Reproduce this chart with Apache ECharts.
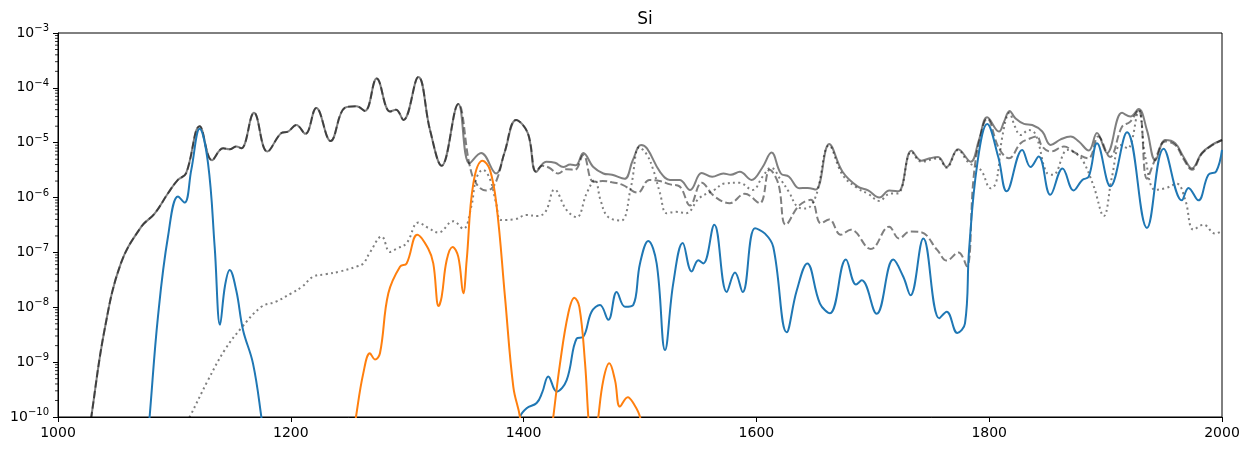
<!DOCTYPE html>
<html>
<head>
<meta charset="utf-8">
<script src="https://cdn.jsdelivr.net/npm/echarts@6/dist/echarts.min.js"></script>
<style>
  html, body { margin: 0; padding: 0; background: #fff; }
  #chart { width: 1249px; height: 451px; }
</style>
</head>
<body>
<div id="chart"></div>
<script>
// x ticks and y decades
const xTicks = [1000, 1200, 1400, 1600, 1800, 2000];
const yDecades = [-10, -9, -8, -7, -6, -5, -4, -3];

// solid and dashed lines share this part
const commonHead = [
  [1022, 1e-11], [1028.6, 1.0e-10], [1040, 3.9e-9], [1054, 6.3e-8], [1071.6, 2.95e-7],
  [1083, 5.1e-7], [1094.5, 1.2e-6], [1103, 2.1e-6], [1110, 2.75e-6], [1121.7, 2.0e-5],
  [1132.3, 4.8e-6], [1141.8, 7.9e-6], [1147.5, 7.6e-6], [1153.2, 8.5e-6], [1157.5, 7.9e-6],
  [1168.4, 3.5e-5], [1179.8, 6.9e-6], [1191.9, 1.5e-5], [1197.6, 1.6e-5], [1204.8, 2.1e-5],
  [1212.5, 1.45e-5], [1221.9, 4.3e-5], [1234.2, 1.07e-5], [1246.3, 4.3e-5], [1256.5, 4.6e-5],
  [1263.7, 3.8e-5], [1273.8, 1.48e-4], [1285.2, 3.7e-5], [1290.4, 4.0e-5], [1296.7, 2.6e-5],
  [1309.6, 1.58e-4], [1319.6, 1.7e-5], [1329.6, 3.8e-6], [1343.9, 5.1e-5]
];

const solidTail = [
  [1353.5, 4.2e-6], [1363.5, 6.5e-6], [1376.4, 2.75e-6], [1383.5, 6.5e-6], [1393.6, 2.6e-5],
  [1403.6, 1.5e-5], [1410.8, 2.95e-6], [1419.4, 4.5e-6], [1427, 4.3e-6], [1434.1, 3.6e-6],
  [1440, 4.0e-6], [1445, 3.9e-6], [1451.3, 6.5e-6], [1459.9, 3.6e-6], [1468.5, 2.75e-6],
  [1476, 2.6e-6], [1486.7, 2.2e-6], [1493.8, 4.8e-6], [1500.9, 9.1e-6], [1506, 7.9e-6],
  [1517.2, 2.95e-6], [1525.8, 2.1e-6], [1534, 2.1e-6], [1543, 1.38e-6], [1553, 2.8e-6],
  [1562, 2.4e-6], [1571.6, 2.75e-6], [1578, 2.6e-6], [1585.8, 2.95e-6], [1595.8, 2.1e-6],
  [1605, 3.5e-6], [1613, 6.6e-6], [1621, 2.75e-6], [1628, 2.4e-6], [1636.8, 1.48e-6],
  [1644, 1.5e-6], [1651, 1.4e-6], [1662.5, 9.5e-6], [1674, 2.95e-6], [1686.8, 1.6e-6],
  [1696, 1.35e-6], [1705.6, 1.0e-6], [1714.2, 1.35e-6], [1722, 1.3e-6], [1733.2, 7.1e-6],
  [1741.8, 4.7e-6], [1749, 5.2e-6], [1756.1, 5.5e-6], [1763.3, 3.6e-6], [1773.3, 7.6e-6],
  [1784.1, 4.5e-6], [1791.2, 1.12e-5], [1798.3, 2.9e-5], [1808.4, 1.6e-5], [1812.7, 2.4e-5],
  [1817.5, 3.8e-5], [1822.7, 2.75e-5], [1829.9, 2.2e-5], [1837, 2.1e-5], [1845.6, 1.6e-5],
  [1852.8, 9.1e-6], [1861.4, 1.15e-5], [1870, 1.3e-5], [1877, 1.05e-5], [1885.5, 7.2e-6],
  [1892.6, 1.5e-5], [1901.2, 6.5e-6], [1914.1, 3.5e-5], [1921.3, 3.0e-5], [1928.4, 4.1e-5],
  [1935.5, 1.7e-5], [1942.7, 4.8e-6], [1951.3, 1.12e-5], [1959.8, 9.8e-6], [1967, 5.5e-6],
  [1974.1, 3.4e-6], [1982.7, 6.5e-6], [1991.3, 9.1e-6], [2000, 1.12e-5]
];

const dashedTail = [
  [1353.5, 4.0e-6], [1359.3, 1.8e-6], [1367.9, 1.35e-6], [1373, 1.5e-6], [1377.9, 2.4e-6],
  [1383.5, 6.5e-6], [1393.6, 2.6e-5], [1403.6, 1.5e-5], [1410.8, 2.95e-6], [1416, 3.8e-6],
  [1422, 3.5e-6], [1429.8, 2.75e-6], [1437, 3.3e-6], [1444, 3.2e-6], [1451.3, 6.0e-6],
  [1459.9, 1.95e-6], [1468, 2.0e-6], [1476, 1.9e-6], [1485, 1.7e-6], [1498, 1.23e-6],
  [1508, 2.1e-6], [1517, 2.0e-6], [1526, 1.74e-6], [1534, 1.6e-6], [1543, 7.2e-7],
  [1553, 1.86e-6], [1564, 1.05e-6], [1577, 7.9e-7], [1590, 1.17e-6], [1602.8, 7.9e-7],
  [1611.4, 3.2e-6], [1618.8, 1.8e-6], [1625.3, 3.2e-7], [1636.8, 7.2e-7], [1646.8, 9.1e-7],
  [1655.4, 3.4e-7], [1662.5, 4.0e-7], [1672.5, 2.1e-7], [1681.1, 2.6e-7], [1698.3, 1.15e-7],
  [1714, 2.95e-7], [1722.6, 1.8e-7], [1732, 2.4e-7], [1741.2, 2.35e-7], [1755.5, 1.1e-7],
  [1763.5, 7.1e-8], [1773.5, 1.0e-7], [1780.7, 5.6e-8], [1786.4, 2.1e-6], [1791.2, 1.0e-5],
  [1798.3, 2.75e-5], [1808.4, 7.9e-6], [1817, 5.2e-6], [1827, 9.8e-6], [1834, 1.17e-5],
  [1840.8, 1.3e-5], [1845.6, 8.5e-6], [1852.8, 6.9e-6], [1864.2, 8.5e-6], [1874.2, 6.5e-6],
  [1885.2, 5.2e-6], [1893.7, 1.3e-5], [1903.8, 5.5e-6], [1914.1, 1.95e-5], [1921, 2.4e-5],
  [1928.4, 4.0e-5], [1935.5, 2.2e-6], [1942.7, 5.0e-6], [1951.3, 1.05e-5], [1959.8, 9.1e-6],
  [1967, 5.0e-6], [1974.1, 3.2e-6], [1982.7, 6.3e-6], [1991.3, 8.9e-6], [2000, 1.12e-5]
];

const dottedLine = [
  [1100, 3e-11], [1113.1, 1.0e-10], [1128.9, 4.7e-10], [1143.2, 1.66e-9], [1157.5, 4.2e-9],
  [1174.7, 1.02e-8], [1187, 1.26e-8], [1200.4, 1.8e-8], [1210, 2.4e-8], [1219.1, 3.6e-8],
  [1230, 4.0e-8], [1242.3, 4.5e-8], [1256.3, 5.5e-8], [1262.3, 6.3e-8], [1268, 1.0e-7],
  [1278.1, 1.95e-7], [1285.2, 1.02e-7], [1291, 1.17e-7], [1299.5, 1.48e-7], [1309.6, 3.5e-7],
  [1318, 2.8e-7], [1326.7, 2.3e-7], [1339.6, 3.7e-7], [1348.2, 2.7e-7], [1355, 6.8e-7],
  [1359.3, 2.2e-6], [1365, 3.2e-6], [1371, 2.2e-6], [1376.4, 7.9e-7], [1380.7, 3.9e-7],
  [1392, 4.0e-7], [1402.6, 4.8e-7], [1412, 4.6e-7], [1419, 5.6e-7], [1426.6, 1.4e-6],
  [1437, 5.9e-7], [1445.6, 4.4e-7], [1454.2, 1.2e-6], [1461.3, 2.1e-6], [1466, 9.1e-7],
  [1472.3, 4.5e-7], [1483.7, 3.8e-7], [1492.3, 1.6e-6], [1499.4, 8.3e-6], [1506, 6.0e-6],
  [1511.4, 3.2e-6], [1517.2, 1.2e-6], [1522.9, 5.2e-7], [1531, 5.5e-7], [1539.5, 5.2e-7],
  [1551, 9.8e-7], [1563.8, 1.38e-6], [1572.4, 1.8e-6], [1585.3, 1.86e-6], [1596.7, 1.38e-6],
  [1605.3, 2.4e-6], [1612.5, 3.5e-6], [1621, 2.1e-6], [1628, 1.26e-6], [1635.4, 6.8e-7],
  [1642.5, 6.3e-7], [1651, 1.05e-6], [1662.5, 8.9e-6], [1674, 2.6e-6], [1686.8, 1.48e-6],
  [1696, 1.17e-6], [1705.6, 8.7e-7], [1714.2, 1.17e-6], [1722, 1.2e-6], [1733.2, 6.8e-6],
  [1741.8, 4.5e-6], [1756, 5.2e-6], [1763.3, 3.5e-6], [1773.3, 7.4e-6], [1782, 4.4e-6],
  [1792.7, 3.2e-6], [1801.3, 1.48e-6], [1806, 1.9e-6], [1811.3, 1.3e-5], [1817.5, 3.5e-5],
  [1822, 2.0e-5], [1827, 1.38e-5], [1834.1, 1.7e-5], [1840, 1.4e-5], [1849.9, 2.75e-6],
  [1855, 2.6e-6], [1867.3, 7.4e-6], [1875, 6.3e-6], [1881, 4.5e-6], [1889.8, 1.6e-6],
  [1898.4, 4.6e-7], [1905.5, 2.4e-6], [1912.7, 9.1e-6], [1919, 7.9e-6], [1928.4, 3.8e-5],
  [1934.1, 5.5e-6], [1942.7, 1.38e-6], [1952, 1.5e-6], [1961.2, 1.78e-6], [1968.4, 9.1e-7],
  [1975.5, 2.6e-7], [1984.1, 3.2e-7], [1994.1, 2.2e-7], [2000, 2.5e-7]
];

const blueLine = [
  [1075, 1.2e-11], [1078.7, 1.0e-10], [1085.9, 6.8e-9], [1094.5, 1.95e-7], [1103.1, 1.05e-6],
  [1108.8, 8.1e-7], [1114.5, 3.2e-6], [1121.7, 1.8e-5], [1128.9, 4.2e-6], [1134.6, 1.26e-7],
  [1139.2, 4.8e-9], [1143.5, 2.5e-8], [1147.5, 4.8e-8], [1153.2, 2.0e-8], [1158.9, 3.9e-9],
  [1167.5, 9.5e-10], [1174.7, 1.0e-10], [1178, 2.5e-11], [1300, 1e-12], [1393, 2.5e-11],
  [1396.9, 1.0e-10], [1402.6, 1.45e-10], [1411.2, 1.8e-10], [1416, 2.8e-10], [1421.2, 5.5e-10],
  [1428.4, 2.9e-10], [1437, 4.7e-10], [1445.6, 2.7e-9], [1451.3, 2.9e-9], [1458.4, 8.3e-9],
  [1465.6, 1.1e-8], [1472.8, 5.9e-9], [1480, 1.9e-8], [1487.1, 1.02e-8], [1494.2, 1.1e-8],
  [1500, 6.3e-8], [1507.1, 1.62e-7], [1514.3, 6.3e-8], [1521.5, 1.66e-9], [1528.6, 2.75e-8],
  [1536.7, 1.48e-7], [1544.4, 4.5e-8], [1550.1, 7.2e-8], [1554.4, 6.3e-8], [1563.8, 3.2e-7],
  [1574.5, 1.9e-8], [1581.6, 4.3e-8], [1588.2, 1.9e-8], [1598.8, 2.75e-7], [1607.4, 2.2e-7],
  [1614.5, 1.26e-7], [1626, 3.5e-9], [1634.6, 2.0e-8], [1643.7, 6.3e-8], [1654.6, 1.17e-8],
  [1663.2, 7.8e-9], [1676.9, 7.4e-8], [1685.6, 2.6e-8], [1690.5, 3.1e-8], [1703.3, 7.6e-9],
  [1717.6, 7.4e-8], [1726.2, 3.6e-8], [1732.4, 1.66e-8], [1743.4, 1.8e-7], [1757.1, 6.3e-9],
  [1763.5, 8.3e-9], [1772.6, 3.4e-9], [1779.2, 5.1e-9], [1782.7, 1.1e-7], [1789.8, 4.2e-6],
  [1798.3, 2.2e-5], [1807.8, 5.5e-6], [1815, 1.3e-6], [1828.4, 7.4e-6], [1835.5, 3.6e-6],
  [1842.5, 5.6e-6], [1852.5, 1.12e-6], [1863, 3.4e-6], [1872.5, 1.35e-6], [1880, 2.1e-6],
  [1885.5, 2.4e-6], [1892.6, 9.8e-6], [1904.1, 1.6e-6], [1918.4, 1.55e-5], [1935.5, 2.8e-7],
  [1949.8, 7.8e-6], [1965.5, 8.9e-7], [1971.2, 1.5e-6], [1979.7, 8.9e-7], [1988.3, 2.6e-6],
  [1995, 3.0e-6], [2000, 7.4e-6]
];

const orangeLine = [
  [1252, 2.5e-11], [1256, 1.0e-10], [1262.3, 6.3e-10], [1268, 1.45e-9], [1272.3, 1.12e-9],
  [1276.6, 1.45e-9], [1283.8, 1.8e-8], [1293.8, 5.5e-8], [1299.5, 6.3e-8], [1308.7, 2.1e-7],
  [1318.1, 1.17e-7], [1322.4, 6.3e-8], [1327, 1.05e-8], [1329.6, 1.55e-8], [1333.9, 7.2e-8],
  [1339, 1.26e-7], [1343.9, 8.3e-8], [1348.2, 1.8e-8], [1351.1, 7.2e-8], [1356.8, 1.8e-6],
  [1364.8, 4.7e-6], [1371.1, 3.2e-6], [1376.9, 6.8e-7], [1384, 1.55e-8], [1391.2, 3.5e-10],
  [1396.9, 1.0e-10], [1400, 2.5e-11], [1411, 1e-12], [1422, 2.5e-11], [1425.5, 1.0e-10],
  [1431.3, 9.5e-10], [1438.4, 7.8e-9], [1443.6, 1.5e-8], [1447.9, 1.02e-8], [1452.8, 9.5e-10],
  [1455.6, 1.0e-10], [1458, 2.5e-11], [1461, 2.5e-11], [1464.2, 1.0e-10], [1468.5, 4.7e-10],
  [1473.6, 9.5e-10], [1478.5, 4.7e-10], [1482.8, 1.55e-10], [1489.5, 2.3e-10], [1494.2, 1.8e-10],
  [1500, 1.0e-10], [1503, 3e-11]
];

const FONT = "DejaVu Sans";
const chart = echarts.init(document.getElementById("chart"), null, { renderer: "canvas" });

// minor ticks of the log axis at 2..9 times each decade
const minorTicks = [];
yDecades.slice(0, -1).forEach(function (d) {
  for (let k = 2; k <= 9; k++) minorTicks.push([1000, k * Math.pow(10, d)]);
});

function lineSeries(data, color, type) {
  return {
    type: "line",
    data: data,
    showSymbol: false,
    symbol: "none",
    smooth: 0.4,
    clip: true,
    lineStyle: { color: color, width: 2, type: type || "solid", cap: "butt" },
    emphasis: { disabled: true },
    silent: true
  };
}

const option = {
  animation: false,
  backgroundColor: "#fff",
  title: {
    text: "Si",
    left: 640,
    top: 6,
    textAlign: "center",
    textStyle: { fontFamily: FONT, fontSize: 17, fontWeight: "normal", color: "#000" }
  },
  grid: {
    left: 58, right: 27, top: 33, bottom: 34,
    show: true, borderColor: "#000", borderWidth: 1, backgroundColor: "transparent"
  },
  xAxis: {
    type: "value",
    min: 1000,
    max: 2000,
    interval: 200,
    axisLine: { show: true, lineStyle: { color: "#000", width: 1 } },
    axisTick: { show: true, length: 5, lineStyle: { color: "#000", width: 1 } },
    axisLabel: {
      margin: 9, color: "#000", fontFamily: FONT, fontSize: 14,
      formatter: function (v) { return xTicks.indexOf(v) >= 0 ? String(v) : ""; }
    },
    splitLine: { show: false }
  },
  yAxis: {
    type: "log",
    logBase: 10,
    min: Math.pow(10, yDecades[0]),
    max: Math.pow(10, yDecades[yDecades.length - 1]),
    splitNumber: 7,
    axisLine: { show: true, lineStyle: { color: "#000", width: 1 } },
    axisTick: { show: true, length: 5, lineStyle: { color: "#000", width: 1 } },
    axisLabel: {
      margin: 9,
      color: "#000",
      fontFamily: FONT,
      formatter: function (v) {
        const e = Math.round(Math.log10(v));
        return "{b|10}{s|\u2212" + Math.abs(e) + "}";
      },
      rich: {
        b: { fontFamily: FONT, fontSize: 14, color: "#000" },
        s: { fontFamily: FONT, fontSize: 10, color: "#000", padding: [0, 0, 9, 0] }
      }
    },
    splitLine: { show: false }
  },
  series: [
    lineSeries(commonHead.concat(solidTail), "rgba(0,0,0,0.5)", "solid"),
    lineSeries(commonHead.concat(dashedTail), "rgba(0,0,0,0.5)", [7.4, 3.2]),
    lineSeries(dottedLine, "rgba(0,0,0,0.5)", [2, 3.3]),
    lineSeries(blueLine, "#1f77b4", "solid"),
    lineSeries(orangeLine, "#ff7f0e", "solid"),
    {
      type: "custom",
      data: minorTicks,
      clip: false,
      silent: true,
      renderItem: function (params, api) {
        const p = api.coord([api.value(0), api.value(1)]);
        return {
          type: "line",
          shape: { x1: p[0] - 3, y1: p[1], x2: p[0], y2: p[1] },
          style: { stroke: "#000", lineWidth: 0.8 }
        };
      }
    }
  ]
};

chart.setOption(option);
</script>
</body>
</html>
